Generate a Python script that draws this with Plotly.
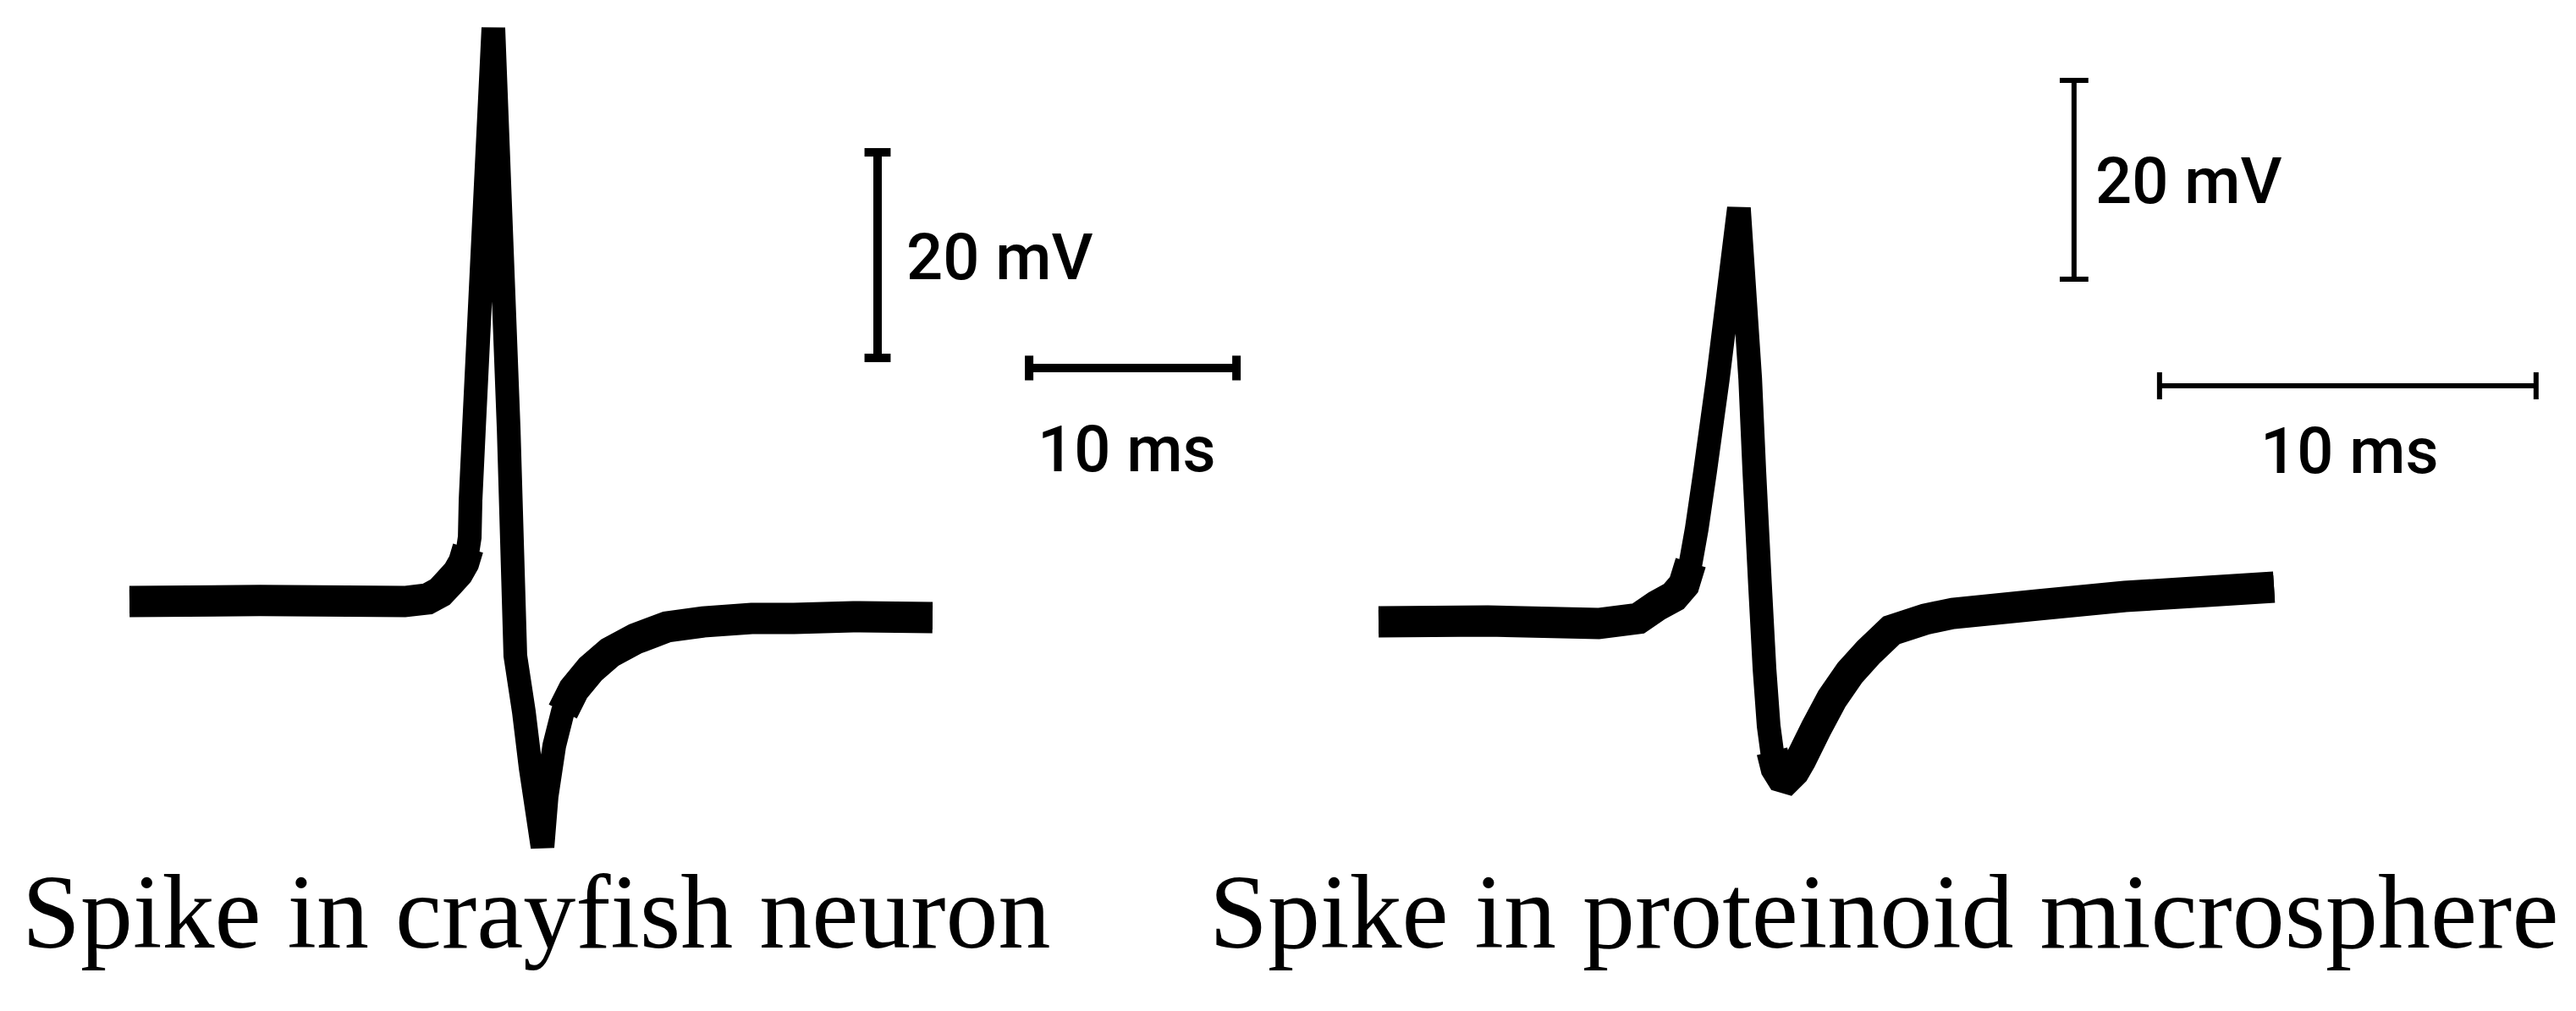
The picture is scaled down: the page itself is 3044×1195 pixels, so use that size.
import plotly.graph_objects as go

# crayfish neuron spike (left): time in ms from start of trace, voltage in mV from resting level
crayfish_t = [0.0, 6.3, 13.27, 14.37, 14.98, 15.43, 15.84, 16.12, 16.33, 16.41, 16.45,
              16.61, 17.55, 18.29, 18.61, 19.02, 19.35, 19.92, 20.12, 20.49, 20.90,
              21.43, 22.24, 23.18, 24.41, 25.92, 27.67, 30.0, 32.04, 34.9, 38.73]
crayfish_v = [0.0, 0.1, 0.0, 0.25, 0.91, 1.89, 2.8, 3.79, 5.19, 6.26, 9.88,
              16.71, 55.8, 16.71, -5.27, -10.7, -16.21, -23.87, -18.93, -13.99, -10.7,
              -8.56, -6.58, -4.94, -3.62, -2.47, -1.98, -1.65, -1.65, -1.48, -1.56]

# proteinoid microsphere spike (right)
proteinoid_t = [0.0, 2.9, 5.84, 6.9, 7.39, 7.84, 8.11, 8.29, 8.45, 8.67, 9.01,
                9.57, 9.87, 9.98, 10.13, 10.25, 10.36, 10.45, 10.56, 10.7, 10.85,
                11.03, 11.21, 11.62, 12.04, 12.52, 13.01, 13.62, 14.52, 15.26, 17.51,
                19.82, 22.0, 23.78]
proteinoid_v = [0.0, 0.09, -0.17, 0.34, 1.62, 2.55, 3.74, 5.96, 9.36, 15.06, 24.43,
                41.62, 24.43, 15.06, 3.74, -4.77, -10.47, -13.02, -14.72, -15.57, -15.74,
                -15.06, -13.87, -10.72, -7.74, -5.11, -3.06, -0.85, 0.26, 0.85, 1.7,
                2.55, 3.06, 3.49]

bar_mv = 20
bar_ms = 10
labels = ["Spike in crayfish neuron", "Spike in proteinoid microsphere"]

W, H = 3044, 1195
split = 1520 / W

fig = go.Figure()


def add_trace(t, v, pre, post, xa, ya):
    # thinner stroke for the fast spike, heavier for the slow baseline parts
    fig.add_trace(go.Scatter(x=t, y=v, mode="lines",
                             line=dict(color="black", width=28, simplify=False),
                             xaxis=xa, yaxis=ya, hoverinfo="skip"))
    for sl in (slice(0, pre), slice(post, None)):
        fig.add_trace(go.Scatter(x=t[sl], y=v[sl], mode="lines",
                                 line=dict(color="black", width=37, simplify=False),
                                 xaxis=xa, yaxis=ya, hoverinfo="skip"))


def add_bars(vx, vy, vcap, hx, hy, hcap, width, xa, ya):
    xs = [vx, vx, None, vx - vcap, vx + vcap, None, vx - vcap, vx + vcap, None,
          hx, hx + bar_ms, None, hx, hx, None, hx + bar_ms, hx + bar_ms]
    ys = [vy, vy + bar_mv, None, vy, vy, None, vy + bar_mv, vy + bar_mv, None,
          hy, hy, None, hy - hcap, hy + hcap, None, hy - hcap, hy + hcap]
    fig.add_trace(go.Scatter(x=xs, y=ys, mode="lines",
                             line=dict(color="black", width=width, simplify=False),
                             xaxis=xa, yaxis=ya, hoverinfo="skip"))


add_trace(crayfish_t, crayfish_v, 9, 20, "x", "y")
add_trace(proteinoid_t, proteinoid_v, 8, 17, "x2", "y2")

add_bars(36.08, 23.7, 0.63, 43.39, 22.72, 1.2, 10, "x", "y")
add_bars(18.47, 34.47, 0.38, 20.74, 23.74, 1.36, 6, "x2", "y2")

unit_font = dict(family="Roboto", size=76, color="black", weight=500)
ann = [
    dict(x=37.4, y=33.5, xref="x", yref="y", text=f"{bar_mv} mV", xanchor="left", yanchor="middle"),
    dict(x=48.1, y=14.8, xref="x", yref="y", text=f"{bar_ms} ms", xanchor="center", yanchor="middle"),
    dict(x=19.0, y=44.3, xref="x2", yref="y2", text=f"{bar_mv} mV", xanchor="left", yanchor="middle"),
    dict(x=25.78, y=17.2, xref="x2", yref="y2", text=f"{bar_ms} ms", xanchor="center", yanchor="middle"),
]
for a in ann:
    fig.add_annotation(showarrow=False, font=unit_font, **a)

for cx, text in zip([626 / W, 2218 / W], labels):
    fig.add_annotation(x=cx, y=1 - 1070 / H, xref="paper", yref="paper", text=text,
                       showarrow=False, xanchor="center", yanchor="middle",
                       font=dict(family="Liberation Serif", size=124, color="black"))

axis = dict(visible=False, showgrid=False, zeroline=False, fixedrange=True)
fig.update_layout(
    width=W, height=H,
    margin=dict(l=0, r=0, t=0, b=0),
    paper_bgcolor="white", plot_bgcolor="white",
    showlegend=False,
    xaxis=dict(axis, domain=[0, split], range=[-5.918, 56.12]),
    yaxis=dict(axis, domain=[0, 1], range=[-40.49, 57.86]),
    xaxis2=dict(axis, domain=[split, 1], range=[-2.27, 31.98], anchor="y2"),
    yaxis2=dict(axis, domain=[0, 1], range=[-39.83, 61.87], anchor="x2"),
)

fig.write_html("out.html")
